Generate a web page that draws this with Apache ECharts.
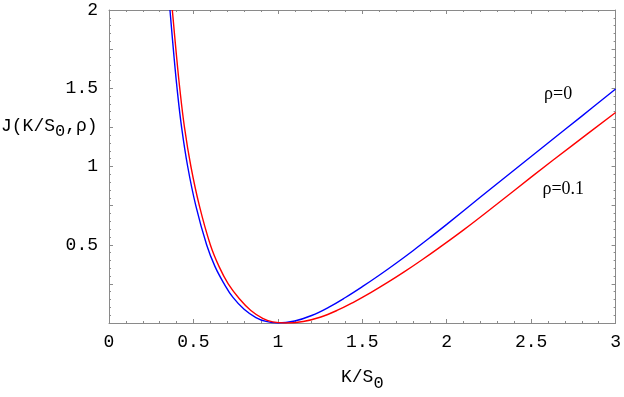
<!DOCTYPE html>
<html>
<head>
<meta charset="utf-8">
<script src="https://cdn.jsdelivr.net/npm/echarts@6/dist/echarts.min.js"></script>
<style>
html,body{margin:0;padding:0;background:#fff;}
#c{width:624px;height:397px;}
</style>
</head>
<body>
<div id="c"></div>
<script>
// K/S0 values and J values for rho = 0 (blue)
var kRho0 = [0.361, 0.381, 0.403, 0.430, 0.466, 0.514, 0.578, 0.628, 0.682, 0.733, 0.80, 0.87, 0.93, 1.0,
             1.1, 1.2, 1.3, 1.4, 1.5, 1.6, 1.7, 1.8, 1.9, 2.0, 2.2, 2.4, 2.6, 2.8, 3.0];
var jRho0 = [2.0, 1.75, 1.5, 1.25, 1.0, 0.75, 0.5, 0.36, 0.25, 0.165, 0.088, 0.035, 0.01, 0.0,
             0.013, 0.048, 0.1, 0.163, 0.232, 0.305, 0.382, 0.462, 0.545, 0.63, 0.805, 0.978, 1.15, 1.322, 1.495];
// K/S0 values and J values for rho = 0.1 (red)
var kRho01 = [0.375, 0.396, 0.419, 0.447, 0.485, 0.535, 0.600, 0.652, 0.706, 0.772, 0.84, 0.91, 0.97, 1.045,
              1.15, 1.25, 1.35, 1.45, 1.55, 1.65, 1.75, 1.85, 1.95, 2.1, 2.3, 2.5, 2.75, 3.0];
var jRho01 = [2.0, 1.75, 1.5, 1.25, 1.0, 0.75, 0.5, 0.36, 0.25, 0.155, 0.08, 0.03, 0.007, 0.0,
              0.01, 0.037, 0.08, 0.134, 0.194, 0.259, 0.328, 0.401, 0.477, 0.595, 0.762, 0.932, 1.14, 1.345];
var xTickLabels = ['0', '0.5', '1', '1.5', '2', '2.5', '3'];
var yTickLabels = ['0.5', '1', '1.5', '2'];
var seriesNames = ['ρ=0', 'ρ=0.1'];

function pairs(xs, ys) { return xs.map(function (x, i) { return [x, ys[i]]; }); }

var chart = echarts.init(document.getElementById('c'), null, {renderer: 'canvas'});
var mono = 'Liberation Mono, Courier New, monospace';
var axisGray = '#8a8a8a';

function fmtNum(v) { return String(Math.round(v * 100) / 100); }

var baseAxis = {
  axisLine: {show: true, onZero: false, lineStyle: {color: axisGray, width: 1}},
  axisTick: {show: true, inside: true, length: 4, lineStyle: {color: axisGray}},
  minorTick: {show: true, splitNumber: 5, length: 2, lineStyle: {color: axisGray}},
  splitLine: {show: false},
  minorSplitLine: {show: false}
};

var option = {
  animation: false,
  backgroundColor: '#fff',
  grid: {left: 109, right: 6, top: 10, bottom: 72, containLabel: false},
  xAxis: [
    Object.assign({}, baseAxis, {
      type: 'value', min: 0, max: 3, interval: 0.5, position: 'bottom',
      axisLabel: {
        margin: 10, color: '#000', fontFamily: mono, fontSize: 18,
        formatter: function (v) {
          var s = fmtNum(v);
          return xTickLabels.indexOf(s) >= 0 ? s : '';
        }
      },
      name: 'K/S{sub|0}', nameLocation: 'middle', nameGap: 40,
      nameTextStyle: {
        color: '#000', fontFamily: mono, fontSize: 18,
        rich: {sub: {fontFamily: mono, fontSize: 17, padding: [12, 0, 0, 0]}}
      }
    }),
    Object.assign({}, baseAxis, {
      type: 'value', min: 0, max: 3, interval: 0.5, position: 'top',
      axisLabel: {show: false}
    })
  ],
  yAxis: [
    Object.assign({}, baseAxis, {
      type: 'value', min: 0, max: 2, interval: 0.25, position: 'left',
      axisLabel: {
        margin: 11, color: '#000', fontFamily: mono, fontSize: 18,
        formatter: function (v) {
          var s = fmtNum(v);
          return yTickLabels.indexOf(s) >= 0 ? s : '';
        }
      }
    }),
    Object.assign({}, baseAxis, {
      type: 'value', min: 0, max: 2, interval: 0.25, position: 'right',
      axisLabel: {show: false}
    })
  ],
  series: [
    {
      name: seriesNames[0], type: 'line', xAxisIndex: 0, yAxisIndex: 0,
      data: pairs(kRho0, jRho0), smooth: 0.4, symbol: 'none', clip: true,
      lineStyle: {color: '#0000ff', width: 1.4}
    },
    {
      name: seriesNames[1], type: 'line', xAxisIndex: 0, yAxisIndex: 0,
      data: pairs(kRho01, jRho01), smooth: 0.4, symbol: 'none', clip: true,
      lineStyle: {color: '#ff0000', width: 1.4}
    }
  ]
};
chart.setOption(option);

var p0 = chart.convertToPixel({xAxisIndex: 0, yAxisIndex: 0}, [2.66, 1.46]);
var p1 = chart.convertToPixel({xAxisIndex: 0, yAxisIndex: 0}, [2.69, 0.855]);
chart.setOption({
  graphic: [
    {
      type: 'text', left: 1, top: 117,
      style: {
        text: 'J(K/S{sub|0},ρ)', fill: '#000', font: '18px ' + mono,
        rich: {sub: {fontFamily: mono, fontSize: 17, padding: [11, 0, 0, 0]}}
      }
    },
    {
      type: 'text', x: p0[0], y: p0[1],
      style: {text: seriesNames[0], fill: '#000', font: '18px Liberation Serif, Times New Roman, serif', align: 'center', verticalAlign: 'middle'}
    },
    {
      type: 'text', x: p1[0], y: p1[1],
      style: {text: seriesNames[1], fill: '#000', font: '18px Liberation Serif, Times New Roman, serif', align: 'center', verticalAlign: 'middle'}
    }
  ]
});
</script>
</body>
</html>
